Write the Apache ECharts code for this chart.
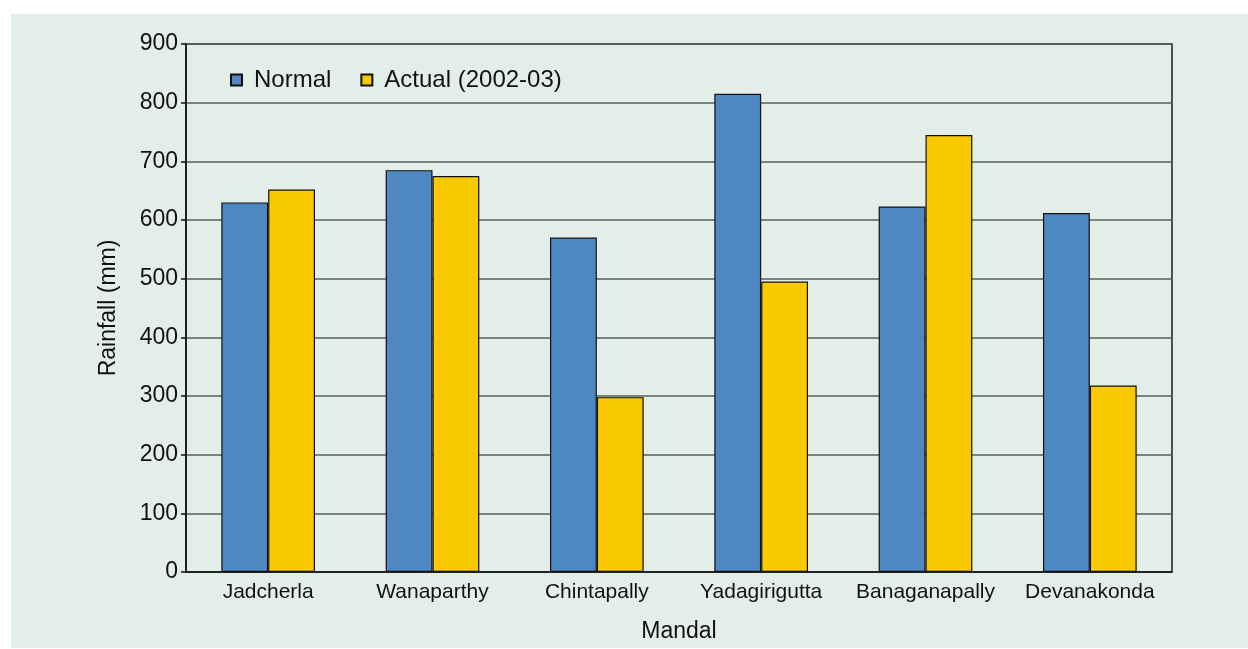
<!DOCTYPE html>
<html>
<head>
<meta charset="utf-8">
<script src="https://cdn.jsdelivr.net/npm/echarts@6/dist/echarts.min.js"></script>
<style>
  html, body { margin: 0; padding: 0; background: #ffffff; }
  #panel { position: absolute; left: 11px; top: 14px; width: 1237px; height: 634px; background: #e4eee9; }
  #chart { position: absolute; left: 0; top: 0; width: 1248px; height: 649px; }
</style>
</head>
<body>
<div id="panel"></div>
<div id="chart"></div>
<script>
// Rainfall per mandal: long-term normal vs. 2002-03 actual (mm)
const mandals = ['Jadcherla', 'Wanaparthy', 'Chintapally', 'Yadagirigutta', 'Banaganapally', 'Devanakonda'];
const normalRain = [630, 685, 570, 815, 623, 612];
const actualRain = [652, 675, 298, 495, 745, 318];
const seriesNames = ['Normal', 'Actual (2002-03)'];

const font = '"Liberation Sans", Arial, sans-serif';
const chart = echarts.init(document.getElementById('chart'), null, { renderer: 'canvas' });

chart.setOption({
  backgroundColor: 'transparent',
  animation: false,
  textStyle: { fontFamily: font, color: '#111' },
  legend: {
    left: 225, top: 63,
    icon: 'rect', itemWidth: 11, itemHeight: 11, itemGap: 29,
    textStyle: { fontSize: 24, fontFamily: font, color: '#111', padding: [0, 0, 0, 7] },
    data: seriesNames
  },
  grid: {
    left: 186, right: 76, top: 44, bottom: 77,
    show: true, borderColor: '#1e1e1e', borderWidth: 1.5, backgroundColor: 'transparent'
  },
  xAxis: {
    type: 'category',
    data: mandals,
    name: 'Mandal',
    nameLocation: 'middle',
    nameGap: 48,
    nameTextStyle: { fontSize: 23, fontFamily: font, color: '#111' },
    axisLine: { lineStyle: { color: '#111', width: 1.5 } },
    axisTick: { length: 7, lineStyle: { color: '#333', width: 1.5 } },
    axisLabel: { interval: 0, fontSize: 21, fontFamily: font, color: '#111', margin: 10 }
  },
  yAxis: {
    type: 'value',
    min: 0, max: 900, interval: 100,
    name: 'Rainfall (mm)',
    nameLocation: 'middle',
    nameGap: 66,
    nameTextStyle: { fontSize: 23, fontFamily: font, color: '#111' },
    axisLine: { show: true, lineStyle: { color: '#111', width: 1.5 } },
    axisTick: { show: true, length: 5, lineStyle: { color: '#111', width: 1.5 } },
    axisLabel: { fontSize: 23, fontFamily: font, color: '#111', margin: 8 },
    splitLine: { lineStyle: { color: '#56605b', width: 1.5 } }
  },
  series: [
    {
      name: seriesNames[0], type: 'bar', data: normalRain,
      barGap: '0%', barCategoryGap: '43%',
      itemStyle: { color: '#4f87c3', borderColor: '#111', borderWidth: 1.2 }
    },
    {
      name: seriesNames[1], type: 'bar', data: actualRain,
      barGap: '0%', barCategoryGap: '43%',
      itemStyle: { color: '#f9c900', borderColor: '#111', borderWidth: 1.2 }
    }
  ]
});
</script>
</body>
</html>
